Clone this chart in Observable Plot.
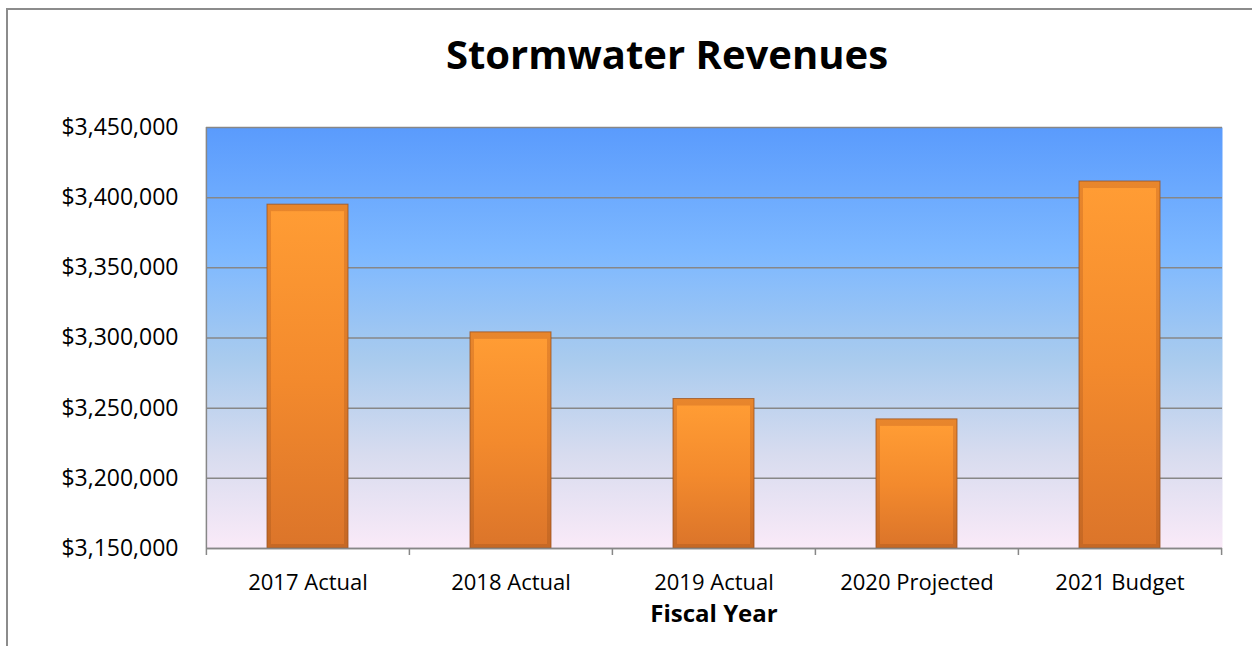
<!DOCTYPE html>
<html>
<head>
<meta charset="utf-8">
<script src="https://cdn.jsdelivr.net/npm/d3@7"></script>
<script src="https://cdn.jsdelivr.net/npm/@observablehq/plot@0.6"></script>
<style>
  html, body { margin: 0; padding: 0; background: #fff; }
  body { width: 1252px; height: 646px; position: relative; overflow: hidden; font-family: "Open Sans", sans-serif; }
  #frame { position: absolute; left: 6px; top: 8px; width: 1300px; height: 700px; border-left: 2px solid #8c8c8c; border-top: 2px solid #8c8c8c; box-sizing: border-box; }
  #title { position: absolute; left: 667px; top: 30px; transform: translateX(-50%); font-size: 40px; font-weight: bold; line-height: 1.2; white-space: nowrap; color: #000; }
  #xlabel { position: absolute; left: 714px; top: 601px; transform: translateX(-50%); font-size: 24px; font-weight: bold; line-height: 1; white-space: nowrap; color: #000; }
  #chart { position: absolute; left: 0; top: 0; }
</style>
</head>
<body>
<div id="frame"></div>
<div id="chart"></div>
<div id="title">Stormwater Revenues</div>
<div id="xlabel">Fiscal Year</div>
<script>
const categories = ["2017 Actual", "2018 Actual", "2019 Actual", "2020 Projected", "2021 Budget"];
const revenues = [3395000, 3304000, 3256500, 3242000, 3411500];
const yTicks = [3150000, 3200000, 3250000, 3300000, 3350000, 3400000, 3450000];

const data = categories.map((c, i) => ({category: c, revenue: revenues[i]}));
const W = 1252, H = 646, ML = 206, MR = 30, MT = 127, MB = 98;
const halfBand = (W - ML - MR) / categories.length / 2;
const fmt = d3.format("$,");

const svg = Plot.plot({
  width: W, height: H,
  marginLeft: ML, marginRight: MR, marginTop: MT, marginBottom: MB,
  style: {fontFamily: "'Open Sans', sans-serif", fontSize: "23px", color: "#000", background: "transparent", overflow: "visible"},
  x: {domain: categories, paddingInner: 0.6, paddingOuter: 0.3, label: null},
  y: {domain: [3150000, 3450000], label: null},
  marks: [
    Plot.frame({fill: "url(#bgGrad)", stroke: "none"}),
    Plot.gridY(yTicks, {stroke: "#878787", strokeOpacity: 1, strokeWidth: 1.5}),
    Plot.ruleX([categories[0]], {dx: -halfBand, y1: 3150000, y2: 3450000, stroke: "#878787", strokeWidth: 1.5}),
    Plot.ruleX(categories, {dx: -halfBand, y1: 3150000, y2: 3145000, stroke: "#878787", strokeWidth: 1.5}),
    Plot.ruleX([categories[categories.length - 1]], {dx: halfBand, y1: 3150000, y2: 3145000, stroke: "#878787", strokeWidth: 1.5}),
    Plot.axisY(yTicks, {tickSize: 0, tickPadding: 28, tickFormat: fmt, label: null, fontSize: 23}),
    Plot.axisX({tickSize: 0, tickPadding: 26, label: null, fontSize: 22}),
    Plot.barY(data, {x: "category", y1: 3150000, y2: "revenue", fill: "url(#barEdge)", stroke: "#9c5420", strokeOpacity: 0.8, strokeWidth: 1}),
    Plot.barY(data, {x: "category", y1: 3150000, y2: "revenue", fill: "url(#barGrad)", insetLeft: 4, insetRight: 4, insetTop: 7, insetBottom: 4}),
    Plot.tickY(data, {x: "category", y: "revenue", stroke: "url(#topGrad)", strokeWidth: 4, dy: 3, insetLeft: 3, insetRight: 3}),
    Plot.ruleY([3150000], {stroke: "#878787", strokeWidth: 1.5})
  ]
});

const defs = d3.select(svg).insert("defs", ":first-child");
const bgGrad = defs.append("linearGradient").attr("id", "bgGrad").attr("x1", 0).attr("y1", 0).attr("x2", 0).attr("y2", 1);
[[0, "#5a9bfd"], [0.3, "#7db8ff"], [0.55, "#a9cbee"], [0.78, "#d8dcef"], [1, "#faeaf8"]].forEach(([o, c]) => bgGrad.append("stop").attr("offset", o).attr("stop-color", c));
const barGrad = defs.append("linearGradient").attr("id", "barGrad").attr("x1", 0).attr("y1", 0).attr("x2", 0).attr("y2", 1);
[[0, "#ff9c34"], [0.5, "#f38a2d"], [1, "#dc752a"]].forEach(([o, c]) => barGrad.append("stop").attr("offset", o).attr("stop-color", c));
const edgeGrad = defs.append("linearGradient").attr("id", "barEdge").attr("x1", 0).attr("y1", 0).attr("x2", 0).attr("y2", 1);
[[0, "#e8862c"], [0.5, "#dc7a28"], [1, "#c66824"]].forEach(([o, c]) => edgeGrad.append("stop").attr("offset", o).attr("stop-color", c));
const topGrad = defs.append("linearGradient").attr("id", "topGrad").attr("x1", 0).attr("y1", 0).attr("x2", 1).attr("y2", 0);
[[0, "#f6a83c"], [0.1, "#ffc95a"], [0.9, "#ffc95a"], [1, "#f6a83c"]].forEach(([o, c]) => topGrad.append("stop").attr("offset", o).attr("stop-color", c));

document.getElementById("chart").appendChild(svg);
</script>
</body>
</html>
